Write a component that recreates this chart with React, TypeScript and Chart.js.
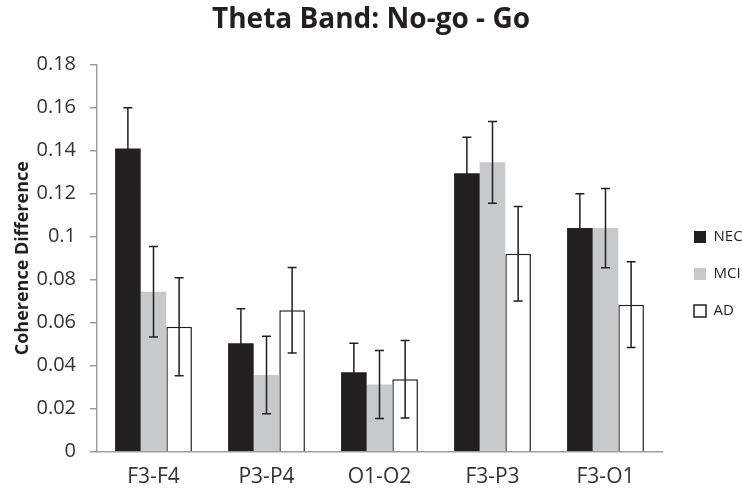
import React, { useEffect, useRef } from "react";
import { Chart, registerables } from "chart.js";

Chart.register(...registerables);

const categories = ["F3-F4", "P3-P4", "O1-O2", "F3-P3", "F3-O1"];
const seriesNames = ["NEC", "MCI", "AD"];
const necValues = [0.141, 0.0505, 0.037, 0.1295, 0.104];
const necErrors = [0.019, 0.016, 0.0135, 0.0167, 0.016];
const mciValues = [0.0744, 0.0357, 0.0313, 0.1346, 0.104];
const mciErrors = [0.021, 0.018, 0.0158, 0.019, 0.0184];
const adValues = [0.0581, 0.0658, 0.0337, 0.0921, 0.0684];
const adErrors = [0.0228, 0.0199, 0.018, 0.022, 0.0199];
const yTickLabels = ["0", "0.02", "0.04", "0.06", "0.08", "0.1", "0.12", "0.14", "0.16", "0.18"];

const FONT = "'Open Sans', 'DejaVu Sans', sans-serif";
const errorSets = [necErrors, mciErrors, adErrors];

const errorBarPlugin = {
  id: "errorBars",
  afterDatasetsDraw(chart: any) {
    const ctx = chart.ctx;
    const yScale = chart.scales.y;
    ctx.save();
    ctx.strokeStyle = "#231f20";
    ctx.lineWidth = 1.5;
    chart.data.datasets.forEach((ds: any, d: number) => {
      const meta = chart.getDatasetMeta(d);
      meta.data.forEach((bar: any, i: number) => {
        const v = ds.data[i];
        const e = errorSets[d][i];
        const x = bar.x;
        const yt = yScale.getPixelForValue(v + e);
        const yb = yScale.getPixelForValue(v - e);
        const cap = 4.5;
        ctx.beginPath();
        ctx.moveTo(x, yt);
        ctx.lineTo(x, yb);
        ctx.moveTo(x - cap, yt);
        ctx.lineTo(x + cap, yt);
        ctx.moveTo(x - cap, yb);
        ctx.lineTo(x + cap, yb);
        ctx.stroke();
      });
    });
    ctx.restore();
  },
};

export default function App() {
  const ref = useRef<HTMLCanvasElement | null>(null);
  useEffect(() => {
    if (!ref.current) return;
    const chart = new Chart(ref.current, {
      type: "bar",
      data: {
        labels: categories,
        datasets: [
          { label: seriesNames[0], data: necValues, backgroundColor: "#231f20", borderColor: "#231f20", borderWidth: 0 },
          { label: seriesNames[1], data: mciValues, backgroundColor: "#c8c9cb", borderColor: "#c8c9cb", borderWidth: 0 },
          { label: seriesNames[2], data: adValues, backgroundColor: "#ffffff", borderColor: "#231f20", borderWidth: 1.5 },
        ],
      },
      options: {
        responsive: false,
        animation: false,
        devicePixelRatio: 1,
        layout: { padding: { top: 0, left: 0, right: 0, bottom: 0 } },
        datasets: { bar: { categoryPercentage: 0.68, barPercentage: 1 } } as any,
        scales: {
          x: {
            grid: { display: false, drawTicks: false },
            border: { display: true, color: "#9d9d9d", width: 1.5 },
            ticks: { color: "#333333", padding: 12.7, font: { family: FONT, size: 21 } },
            afterFit: (scale: any) => { scale.height = 43.3; },
          } as any,
          y: {
            min: 0,
            max: 0.18,
            ticks: {
              stepSize: 0.02,
              color: "#333333",
              padding: 14,
              font: { family: FONT, size: 20 },
              callback: (v: any) => yTickLabels[Math.round(Number(v) / 0.02)],
            },
            grid: { display: true, drawOnChartArea: false, drawTicks: true, tickLength: 7, color: "#9d9d9d", lineWidth: 1.5 },
            border: { display: true, color: "#9d9d9d", width: 1.5 },
            title: {
              display: true,
              text: "Coherence Difference",
              color: "#231f20",
              font: { family: FONT, size: 18, weight: "bold" },
              padding: { top: 12.2, bottom: 0 },
            },
            afterFit: (scale: any) => { scale.width = 97; },
          } as any,
          y2: {
            position: "right",
            display: true,
            min: 0,
            max: 0.18,
            ticks: { display: false },
            grid: { display: false, drawTicks: false },
            border: { display: false },
            afterFit: (scale: any) => { scale.width = 10; },
          } as any,
        },
        plugins: {
          title: {
            display: true,
            text: "Theta Band: No-go - Go",
            color: "#231f20",
            font: { family: FONT, size: 28, weight: "bold" },
            padding: { top: 3, bottom: 28.1 },
          },
          legend: {
            position: "right",
            fullSize: false,
            maxWidth: 70,
            title: { display: true, text: "", font: { size: 12 }, padding: { top: 17.2, bottom: 0 } },
            labels: { boxWidth: 12, boxHeight: 12, padding: 22, color: "#231f20", font: { family: FONT, size: 15 } },
          },
          tooltip: { enabled: false },
        },
      },
      plugins: [errorBarPlugin],
    });
    return () => chart.destroy();
  }, []);
  return (
    <div style={{ position: "fixed", left: 0, top: 0, width: 742, height: 495, background: "#fff" }}>
      <canvas ref={ref} width={742} height={495} />
    </div>
  );
}
